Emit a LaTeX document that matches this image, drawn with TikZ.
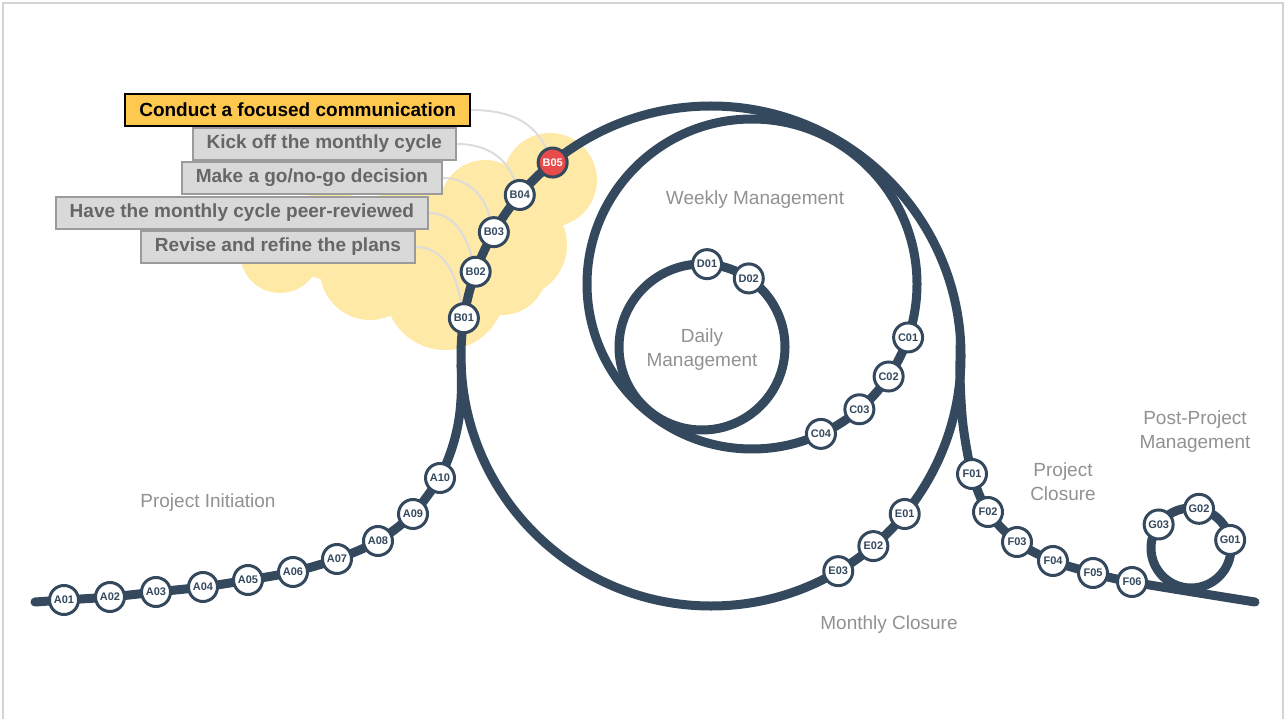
\documentclass[tikz,border=0pt]{standalone}
\usepackage{fontspec}
\setmainfont{Liberation Sans}
\usetikzlibrary{positioning,calc,backgrounds}
\definecolor{trackblue}{RGB}{52,73,94}
\definecolor{stopred}{RGB}{233,75,75}
\definecolor{cloudyellow}{RGB}{255,233,166}
\definecolor{hilite}{RGB}{255,201,79}
\definecolor{boxgray}{RGB}{217,217,217}
\definecolor{boxline}{RGB}{155,155,155}
\definecolor{boxtext}{RGB}{102,102,102}
\definecolor{phasegray}{RGB}{145,145,145}
\definecolor{leadgray}{RGB}{220,220,220}
\definecolor{framegray}{RGB}{212,212,212}
\tikzset{station/.style={circle,draw=trackblue,fill=white,line width=3pt,minimum size=29pt,inner sep=0pt,text=trackblue,font=\fontsize{11}{12}\selectfont\bfseries}}
\tikzset{hotstation/.style={station,fill=stopred,text=white}}
\tikzset{trackline/.style={draw=trackblue,line width=9pt,line cap=round}}
\tikzset{taskbox/.style={draw=boxline,fill=boxgray,line width=2pt,minimum height=32pt,inner xsep=14pt,inner ysep=0pt,text=boxtext,font=\fontsize{19}{22}\selectfont\bfseries}}
\tikzset{hottask/.style={taskbox,draw=black,fill=hilite,text=black}}
\tikzset{phaselabel/.style={text=phasegray,align=center,font=\fontsize{19}{24}\selectfont}}
\tikzset{leaderline/.style={draw=leadgray,line width=2pt}}
\tikzset{cloudpuff/.style={fill=cloudyellow}}

\begin{document}
\begin{tikzpicture}[x=1pt,y=-1pt]
\useasboundingbox (0,0) rectangle (1287,719);

% centres of the loops and the free ends of the track
\coordinate (mcen) at (711,356);
\coordinate (wcen) at (752,284);
\coordinate (dcen) at (702,347);
\coordinate (gcen) at (1191,548);
\coordinate (tstart) at (35,602);
\coordinate (tend) at (1255,602);

% stations
\foreach \n/\x/\y in {A01/64/600,A02/110/597,A03/156/592,A04/203/587,A05/248/580,A06/293/572,A07/337/559,A08/378/541,A09/413/514,A10/440/478}
  \node[station] (\n) at (\x,\y) {\n};
\foreach \n/\a in {B01/171.3,B02/160.3,B03/150.3,B04/139.9}
  \node[station] (\n) at ($(mcen)+(\a:250pt)$) {\n};
\node[hotstation] (B05) at ($(mcen)+(129.3:250pt)$) {B05};
\foreach \n/\a in {C01/-18.9,C02/-34.1,C03/-49.4,C04/-65.3}
  \node[station] (\n) at ($(wcen)+(\a:165pt)$) {\n};
\foreach \n/\a in {D01/86.5,D02/55.7}
  \node[station] (\n) at ($(dcen)+(\a:83pt)$) {\n};
\foreach \n/\a in {E01/-39.2,E02/-49.5,E03/-59.4}
  \node[station] (\n) at ($(mcen)+(\a:250pt)$) {\n};
\foreach \n/\x/\y in {F01/972/474,F02/988/512,F03/1017/542,F04/1053/561,F05/1093/573,F06/1132/582}
  \node[station] (\n) at (\x,\y) {\n};
\foreach \n/\a in {G01/11.6,G02/78.4,G03/144}
  \node[station] (\n) at ($(gcen)+(\a:40pt)$) {\n};

% tasks of the monthly cycle
\node[hottask,anchor=east] (t1) at (471,110) {Conduct a focused communication};
\node[taskbox,anchor=east] (t2) at (457,144) {Kick off the monthly cycle};
\node[taskbox,anchor=east] (t3) at (443,178) {Make a go/no-go decision};
\node[taskbox,anchor=east] (t4) at (429,213) {Have the monthly cycle peer-reviewed};
\node[taskbox,anchor=east] (t5) at (416,247) {Revise and refine the plans};

% phases
\node[phaselabel] (pinit) at (208,503) {Project Initiation};
\node[phaselabel] (pweek) at (755,200) {Weekly Management};
\node[phaselabel] (pday) at (702,350) {Daily\\Management};
\node[phaselabel] (pmonth) at (889,625) {Monthly Closure};
\node[phaselabel] (pclose) at (1063,482) {Project\\Closure};
\node[phaselabel] (ppost) at (1195,432) {Post-Project\\Management};

\begin{scope}[on background layer]
\draw[framegray,line width=1.2pt] (3,725) -- (3,3) -- (1283,3) -- (1283,725);
% cloud behind the monthly cycle
\foreach \x/\y/\r in {280/253/40,370/270/50,445/290/60,502/270/45,515/245/52,485/205/45,550/180/47,330/235/45,410/235/50}
  \fill[cloudpuff] (\x,\y) circle[radius=\r pt];
\draw[leaderline] (t1.east) to[out=0,in=115] (B05);
\draw[leaderline] (t2.east) to[out=0,in=110] (B04);
\draw[leaderline] (t3.east) to[out=0,in=105] (B03);
\draw[leaderline] (t4.east) to[out=0,in=105] (B02);
\draw[leaderline] (t5.east) to[out=0,in=100] (B01);
% loops
\draw[trackline] (mcen) circle[radius=250pt];
\draw[trackline] (wcen) circle[radius=165pt];
\draw[trackline] (dcen) circle[radius=83pt];
\draw[trackline] (gcen) circle[radius=40pt];
% way in and way out
\draw[trackline] plot[smooth,tension=0.5] coordinates {(tstart) (A01.center) (A02.center) (A03.center) (A04.center) (A05.center) (A06.center) (A07.center) (A08.center) (A09.center) (A10.center)}
  to[out=65,in=-88] ($(mcen)+(182:250pt)$);
\draw[trackline] plot[smooth,tension=0.5] coordinates {($(mcen)+(4:250pt)$) ($(mcen)+(-5:250pt)$) (963,425) (F01.center) (F02.center) (F03.center) (F04.center) (F05.center) (F06.center) (tend)};
\end{scope}
\end{tikzpicture}
\end{document}
